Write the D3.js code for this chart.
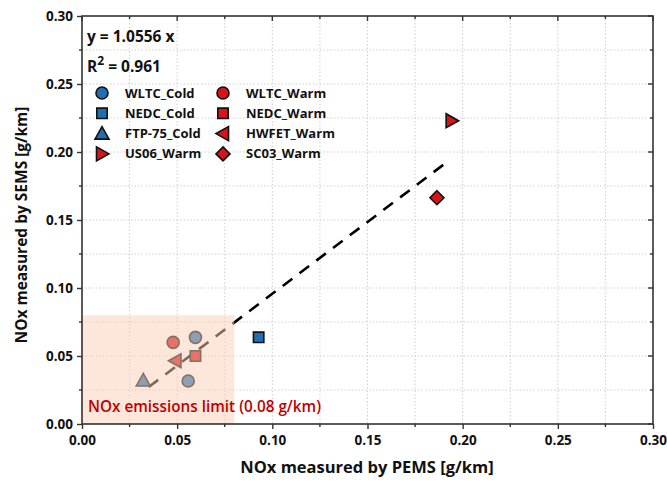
<!DOCTYPE html>
<html><head><meta charset="utf-8">
<script src="https://cdn.jsdelivr.net/npm/d3@7"></script>
<style>body{margin:0;background:#fff}svg{display:block}text{font-family:"Open Sans",sans-serif}</style>
</head><body><svg id="c" width="667" height="486"></svg>
<script>
// ---- data ----
const seriesNames = ["WLTC_Cold","NEDC_Cold","FTP-75_Cold","US06_Warm","WLTC_Warm","NEDC_Warm","HWFET_Warm","SC03_Warm"];
const seriesShapes = ["circle","square","triUp","triRight","circle","square","triLeft","diamond"];
const seriesGroup = ["cold","cold","cold","warm","warm","warm","warm","warm"];
const pemsValues = [[0.0596,0.0558],[0.0928],[0.0322],[0.1942],[0.0479],[0.0596],[0.0491],[0.1865]];
const semsValues = [[0.0637,0.0316],[0.0637],[0.0320],[0.2230],[0.0600],[0.0500],[0.0465],[0.1664]];
const fitSlope = 1.0556, fitOffset = -0.0098, fitRange = [0.035, 0.1935];
const r2 = 0.961;
const limitValue = 0.08;
const xTicks = [0,0.05,0.10,0.15,0.20,0.25,0.30];
const yTicks = [0,0.05,0.10,0.15,0.20,0.25,0.30];
const minorTicks = [0.025,0.075,0.125,0.175,0.225,0.275];

const svg = d3.select("#c");
const L=82,R=653,T=16,B=424;
const x = d3.scaleLinear().domain([0,0.30]).range([L,R]);
const y = d3.scaleLinear().domain([0,0.30]).range([B,T]);
const colors = {cold:"#1f6fb2", warm:"#d7141a"};

// grid
const allGrid = xTicks.concat(minorTicks).filter(v=>v>0&&v<0.30);
svg.append("g").selectAll("line").data(allGrid).join("line")
  .attr("x1",d=>x(d)).attr("x2",d=>x(d)).attr("y1",T).attr("y2",B)
  .attr("stroke","#cfcfcf").attr("stroke-width",1).attr("stroke-dasharray","1.5,2");
svg.append("g").selectAll("line").data(allGrid).join("line")
  .attr("y1",d=>y(d)).attr("y2",d=>y(d)).attr("x1",L).attr("x2",R)
  .attr("stroke","#cfcfcf").attr("stroke-width",1).attr("stroke-dasharray","1.5,2");

// fit line
svg.append("line")
  .attr("x1",x(fitRange[0])).attr("y1",y(fitSlope*fitRange[0]+fitOffset))
  .attr("x2",x(fitRange[1])).attr("y2",y(fitSlope*fitRange[1]+fitOffset))
  .attr("stroke","#000").attr("stroke-width",2.6).attr("stroke-dasharray","12,9");

function shapePath(s, cx, cy){
  const p = d3.path();
  if(s==="circle"){ p.arc(cx,cy,6,0,2*Math.PI); }
  else if(s==="square"){ p.rect(cx-5.2,cy-5.2,10.4,10.4); }
  else if(s==="triUp"){ p.moveTo(cx,cy-7); p.lineTo(cx+7,cy+5.5); p.lineTo(cx-7,cy+5.5); p.closePath(); }
  else if(s==="triRight"){ p.moveTo(cx+7,cy); p.lineTo(cx-5.5,cy+7); p.lineTo(cx-5.5,cy-7); p.closePath(); }
  else if(s==="triLeft"){ p.moveTo(cx-7,cy); p.lineTo(cx+5.5,cy+7); p.lineTo(cx+5.5,cy-7); p.closePath(); }
  else if(s==="diamond"){ p.moveTo(cx,cy-7); p.lineTo(cx+7,cy); p.lineTo(cx,cy+7); p.lineTo(cx-7,cy); p.closePath(); }
  return p.toString();
}
const pts = [];
seriesNames.forEach((n,i)=>pemsValues[i].forEach((v,j)=>pts.push({s:seriesShapes[i],g:seriesGroup[i],px:v,py:semsValues[i][j]})));
svg.append("g").selectAll("path").data(pts).join("path")
  .attr("d",d=>shapePath(d.s,x(d.px),y(d.py)))
  .attr("fill",d=>colors[d.g]).attr("stroke","#111").attr("stroke-width",1.6);

// limit overlay
svg.append("rect").attr("x",x(0)).attr("y",y(limitValue)).attr("width",x(limitValue)-x(0)).attr("height",y(0)-y(limitValue))
  .attr("fill","rgb(249,207,182)").attr("opacity",0.5);
svg.append("text").attr("x",x(0)+6).attr("y",B-12).attr("fill","#c00000").attr("font-size",15.3).attr("font-weight",600)
  .text("NOx emissions limit ("+limitValue.toFixed(2)+" g/km)");

// frame
svg.append("rect").attr("x",L).attr("y",T).attr("width",R-L).attr("height",B-T).attr("fill","none").attr("stroke","#333").attr("stroke-width",1.6);

// axes
const fmt = d3.format(".2f");
const xa = svg.append("g").attr("transform",`translate(0,${B})`).call(d3.axisBottom(x).tickValues(xTicks).tickFormat(fmt).tickSize(5).tickPadding(6));
const ya = svg.append("g").attr("transform",`translate(${L},0)`).call(d3.axisLeft(y).tickValues(yTicks).tickFormat(fmt).tickSize(5).tickPadding(4));
[xa,ya].forEach(a=>{a.select(".domain").remove(); a.selectAll("line").attr("stroke","#333").attr("stroke-width",1.4);
  a.selectAll("text").attr("font-size",13.5).attr("font-weight",700).attr("fill","#111").attr("font-family","'Open Sans',sans-serif");});
svg.append("g").selectAll("line").data(minorTicks).join("line").attr("x1",d=>x(d)).attr("x2",d=>x(d)).attr("y1",B).attr("y2",B+3).attr("stroke","#333").attr("stroke-width",1.4);
svg.append("g").selectAll("line").data(minorTicks).join("line").attr("y1",d=>y(d)).attr("y2",d=>y(d)).attr("x1",L).attr("x2",L-3).attr("stroke","#333").attr("stroke-width",1.4);
// inner ticks top & right
svg.append("g").selectAll("line").data(xTicks.concat(minorTicks)).join("line").attr("x1",d=>x(d)).attr("x2",d=>x(d)).attr("y1",T).attr("y2",d=>T+(minorTicks.includes(d)?3:5)).attr("stroke","#333").attr("stroke-width",1.4);
svg.append("g").selectAll("line").data(yTicks.concat(minorTicks)).join("line").attr("y1",d=>y(d)).attr("y2",d=>y(d)).attr("x1",R).attr("x2",d=>R-(minorTicks.includes(d)?3:5)).attr("stroke","#333").attr("stroke-width",1.4);

// axis titles
svg.append("text").attr("x",367).attr("y",473).attr("text-anchor","middle").attr("font-size",16.5).attr("font-weight",700).attr("fill","#111").text("NOx measured by PEMS [g/km]");
svg.append("text").attr("transform",`translate(27,${(T+B)/2+5}) rotate(-90)`).attr("text-anchor","middle").attr("font-size",15.5).attr("font-weight",700).attr("fill","#111").text("NOx measured by SEMS [g/km]");

// equation
svg.append("text").attr("x",87).attr("y",42).attr("font-size",15.5).attr("font-weight",700).attr("fill","#111").text("y = "+fitSlope+" x");
const rt = svg.append("text").attr("x",87).attr("y",72).attr("font-size",15.5).attr("font-weight",700).attr("fill","#111");
rt.append("tspan").text("R");
rt.append("tspan").attr("dy",-7).attr("font-size",12).text("2");
rt.append("tspan").attr("dy",7).text(" = "+r2);

// legend
const legCol = [[102,125],[223,246]];
const legY0 = 93, legDY = 20.3;
const legOrder = [0,4,1,5,2,6,3,7];
legOrder.forEach((si,k)=>{
  const col = k%2, row = Math.floor(k/2);
  const cy = legY0+row*legDY;
  svg.append("path").attr("d",shapePath(seriesShapes[si],legCol[col][0],cy)).attr("fill",colors[seriesGroup[si]]).attr("stroke","#111").attr("stroke-width",1.6);
  svg.append("text").attr("x",legCol[col][1]).attr("y",cy+4.5).attr("font-size",13).attr("font-weight",700).attr("fill","#111").text(seriesNames[si]);
});
</script></body></html>
